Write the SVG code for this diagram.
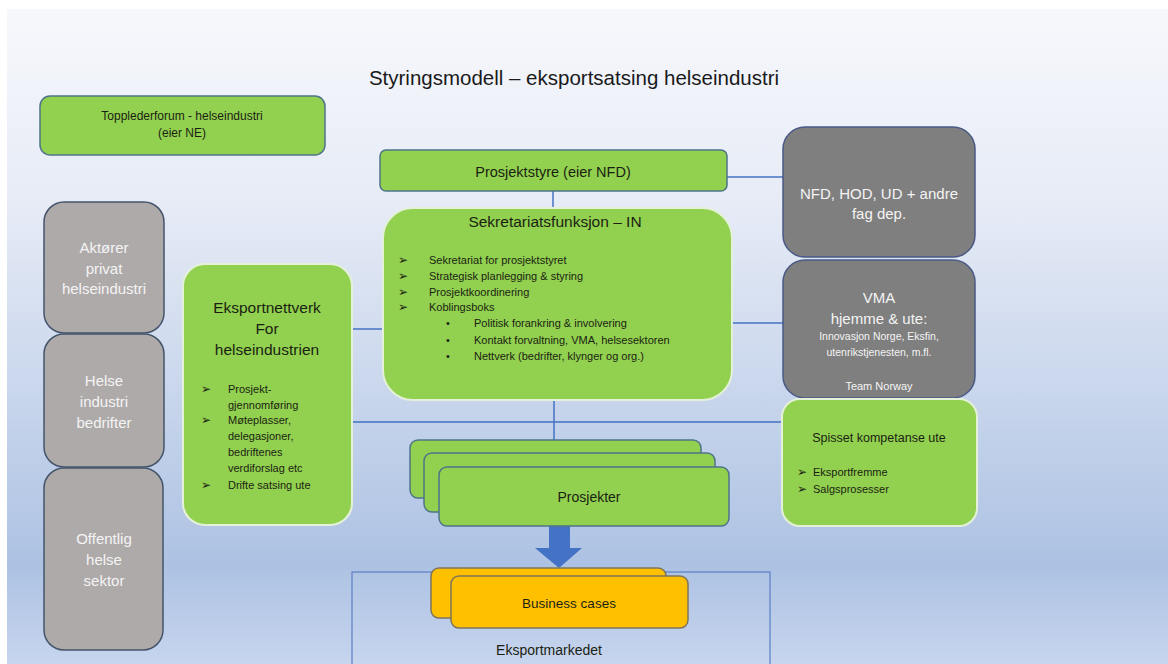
<svg xmlns="http://www.w3.org/2000/svg" width="1168" height="664" viewBox="0 0 1168 664">
<defs>
<linearGradient id="bg" x1="0" y1="0" x2="0" y2="1">
<stop offset="0" stop-color="#f7f8fc"/>
<stop offset="0.3" stop-color="#e6ebf6"/>
<stop offset="0.85" stop-color="#adc2e3"/>
<stop offset="1" stop-color="#c7d5ee"/>
</linearGradient>
<style>
text{font-family:"Liberation Sans",Arial,sans-serif;}
.g{fill:#92d050;stroke:#4e7488;stroke-width:1.5;}
.gw{fill:#92d050;stroke:#e4f1d8;stroke-width:2;}
.gl{fill:#aeaaaa;stroke:#44546a;stroke-width:1.5;}
.gd{fill:#7f7f7f;stroke:#4a5a85;stroke-width:1.5;}
.o{fill:#ffc000;stroke:#7f7459;stroke-width:1.5;}
.c{fill:none;stroke:#4472c4;stroke-width:1.5;}
.t{fill:#1b1f12;}
.w{fill:#f4f4f4;}
.m{text-anchor:middle;}
.a{font-family:"DejaVu Sans",sans-serif;font-size:12px;font-weight:bold;}
</style>
</defs>
<rect x="0" y="0" width="1168" height="664" fill="#ffffff"/>
<rect x="7" y="9" width="1161" height="655" fill="url(#bg)"/>

<text x="574" y="85" class="m" font-size="20.5" fill="#1a1a1a">Styringsmodell – eksportsatsing helseindustri</text>

<g id="connectors">
<line class="c" x1="553" y1="191" x2="553" y2="208"/>
<line class="c" x1="727" y1="177" x2="783" y2="177"/>
<line class="c" x1="732" y1="323" x2="783" y2="323"/>
<line class="c" x1="352" y1="329" x2="383" y2="329"/>
<line class="c" x1="352" y1="422" x2="782" y2="422"/>
<line class="c" x1="554" y1="400" x2="554" y2="440"/>
<polygon points="549,526 570,526 570,548 582,548 559,568 535,548 549,548" fill="#4472c4"/>
</g>

<g id="topplederforum">
<rect class="g" x="40" y="96" width="285" height="59" rx="10"/>
<text class="t m" x="182" y="120" font-size="12">Topplederforum - helseindustri</text>
<text class="t m" x="182" y="137" font-size="12">(eier NE)</text>
</g>

<g id="aktorer">
<rect class="gl" x="44" y="202" width="120" height="131" rx="20"/>
<text class="w m" x="104" y="253" font-size="15">Aktører</text>
<text class="w m" x="104" y="274" font-size="15">privat</text>
<text class="w m" x="104" y="294" font-size="15">helseindustri</text>
</g>
<g id="helse">
<rect class="gl" x="44" y="334" width="120" height="133" rx="20"/>
<text class="w m" x="104" y="386" font-size="15">Helse</text>
<text class="w m" x="104" y="407" font-size="15">industri</text>
<text class="w m" x="104" y="428" font-size="15">bedrifter</text>
</g>
<g id="offentlig">
<rect class="gl" x="44" y="468" width="119" height="182" rx="20"/>
<text class="w m" x="104" y="544" font-size="15">Offentlig</text>
<text class="w m" x="104" y="565" font-size="15">helse</text>
<text class="w m" x="104" y="586" font-size="15">sektor</text>
</g>

<g id="eksportnettverk">
<rect class="gw" x="183" y="264" width="169" height="261" rx="22"/>
<text class="t m" x="267" y="313" font-size="15.5">Eksportnettverk</text>
<text class="t m" x="267" y="334" font-size="15.5">For</text>
<text class="t m" x="267" y="355" font-size="15.5">helseindustrien</text>
<g class="t" font-size="11">
<text class="a" x="201" y="393">➢</text>
<text x="228" y="393">Prosjekt-</text>
<text x="228" y="409">gjennomføring</text>
<text class="a" x="201" y="424">➢</text>
<text x="228" y="424">Møteplasser,</text>
<text x="228" y="440">delegasjoner,</text>
<text x="228" y="456">bedriftenes</text>
<text x="228" y="472">verdiforslag etc</text>
<text class="a" x="201" y="489">➢</text>
<text x="228" y="489">Drifte satsing ute</text>
</g>
</g>

<g id="prosjektstyre">
<rect class="g" x="380" y="150" width="347" height="41" rx="6"/>
<text class="t m" x="553" y="177" font-size="14.5">Prosjektstyre (eier NFD)</text>
</g>

<g id="sekretariat">
<rect class="gw" x="383" y="208" width="349" height="192" rx="30"/>
<text class="t m" x="555" y="227" font-size="15.5">Sekretariatsfunksjon – IN</text>
<g class="t" font-size="11">
<text class="a" x="398" y="264">➢</text>
<text x="429" y="264">Sekretariat for prosjektstyret</text>
<text class="a" x="398" y="280">➢</text>
<text x="429" y="280">Strategisk planlegging &amp; styring</text>
<text class="a" x="398" y="296">➢</text>
<text x="429" y="296">Prosjektkoordinering</text>
<text class="a" x="398" y="311">➢</text>
<text x="429" y="311">Koblingsboks</text>
<text x="446" y="327">•</text>
<text x="474" y="327">Politisk forankring &amp; involvering</text>
<text x="446" y="344">•</text>
<text x="474" y="344">Kontakt forvaltning, VMA, helsesektoren</text>
<text x="446" y="360">•</text>
<text x="474" y="360">Nettverk (bedrifter, klynger og org.)</text>
</g>
</g>

<g id="nfd">
<rect class="gd" x="783" y="127" width="192" height="130" rx="22"/>
<text class="w m" x="879" y="199" font-size="15">NFD, HOD, UD + andre</text>
<text class="w m" x="879" y="219" font-size="15">fag dep.</text>
</g>

<g id="vma">
<rect class="gd" x="783" y="260" width="192" height="138" rx="22"/>
<text class="w m" x="879" y="303" font-size="15">VMA</text>
<text class="w m" x="879" y="324" font-size="15">hjemme &amp; ute:</text>
<text class="w m" x="879" y="340" font-size="10.5">Innovasjon Norge, Eksfin,</text>
<text class="w m" x="879" y="356" font-size="10.5">utenrikstjenesten, m.fl.</text>
<text class="w m" x="879" y="390" font-size="11">Team Norway</text>
</g>

<g id="spisset">
<rect class="gw" x="782" y="399" width="195" height="127" rx="18"/>
<text class="t m" x="879" y="442" font-size="12.5">Spisset kompetanse ute</text>
<g class="t" font-size="11">
<text class="a" x="797" y="476">➢</text>
<text x="813" y="476">Eksportfremme</text>
<text class="a" x="797" y="493">➢</text>
<text x="813" y="493">Salgsprosesser</text>
</g>
</g>

<g id="prosjekter">
<rect class="g" x="410" y="440" width="291" height="58" rx="8" stroke="#41719c"/>
<rect class="g" x="424" y="453" width="291" height="59" rx="8"/>
<rect class="g" x="439" y="467" width="290" height="59" rx="8"/>
<text class="t m" x="589" y="502" font-size="14">Prosjekter</text>
</g>

<g id="eksportmarkedet">
<rect x="352" y="572" width="418" height="100" fill="none" stroke="#5b7fc4" stroke-width="1.2"/>
<text class="t m" x="549" y="655" font-size="14">Eksportmarkedet</text>
</g>

<g id="business">
<rect class="o" x="431" y="568" width="235" height="50" rx="8"/>
<rect class="o" x="451" y="576" width="237" height="52" rx="8"/>
<text class="t m" x="569" y="608" font-size="13.5">Business cases</text>
</g>
</svg>
